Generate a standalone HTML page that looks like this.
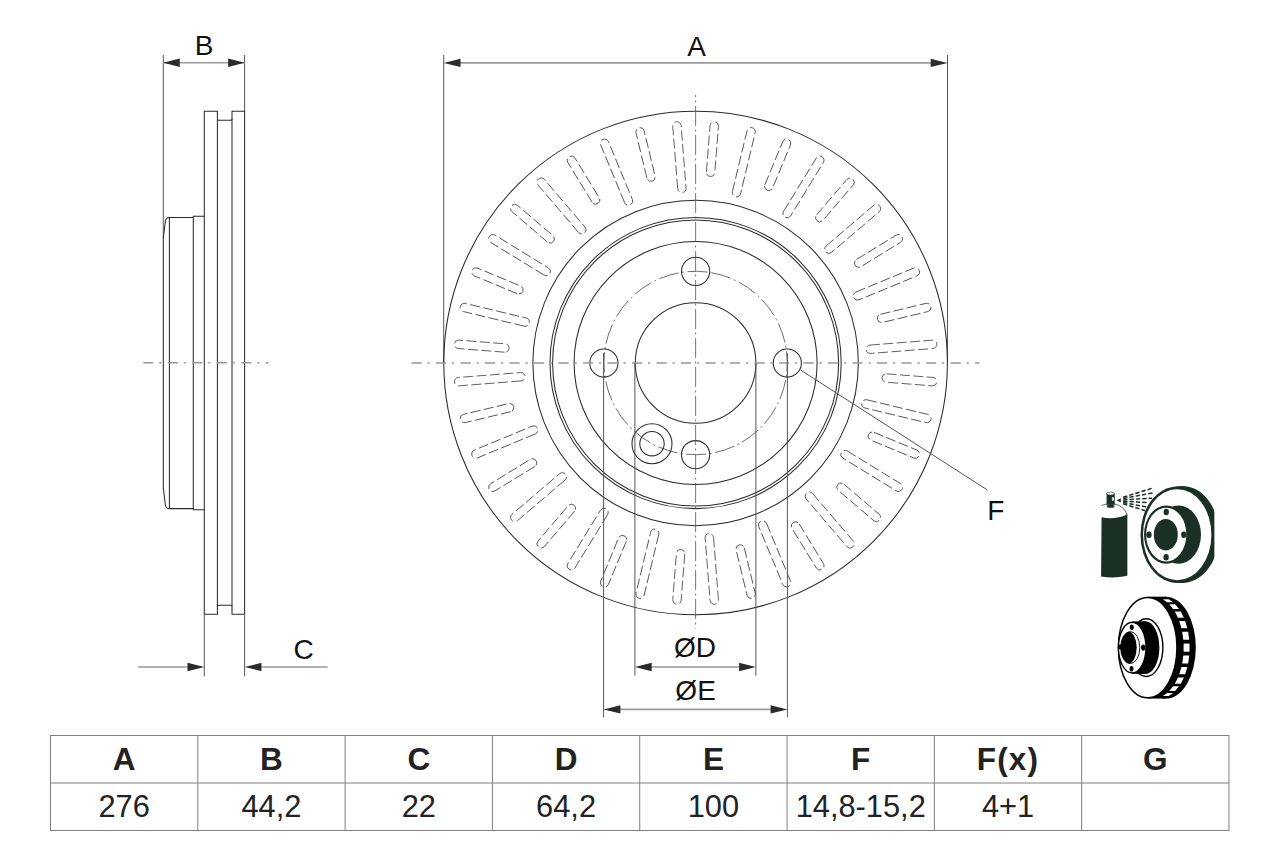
<!DOCTYPE html>
<html lang="en"><head><meta charset="utf-8"><title>Brake disc drawing</title>
<style>
html,body{margin:0;padding:0;background:#fff;}
body{width:1280px;height:853px;overflow:hidden;}
svg{display:block;}
text{opacity:.999;font-family:"Liberation Sans",Arial,Helvetica,sans-serif;fill:#111;}
.o{fill:none;stroke:#2b2b2b;stroke-width:1.05;}
.t{fill:none;stroke:#3a3a3a;stroke-width:0.9;}
.ext{fill:none;stroke:#555;stroke-width:1;}
.dim{fill:none;stroke:#999;stroke-width:1.6;}
.ar{fill:#2b2b2b;stroke:none;}
.slot{fill:none;stroke:#4a4a4a;stroke-width:0.85;stroke-dasharray:10 3.4;}
.cl{fill:none;stroke:#999;stroke-width:1.6;stroke-dasharray:10.2 5.8 2.2 6.3;}
.clv{fill:none;stroke:#555;stroke-width:0.8;stroke-dasharray:20 3.5 2 3.5;}
.bc{fill:none;stroke:#666;stroke-width:0.9;stroke-dasharray:20 3.5 2 3.5;}
.lbl{font-size:28px;}
.th{font-size:31.5px;font-weight:bold;text-anchor:middle;fill:#222;}
.td{font-size:30.8px;text-anchor:middle;fill:#222;}
.tb{fill:none;stroke:#808080;stroke-width:1;}
</style></head><body>
<svg width="1280" height="853" viewBox="0 0 1280 853">
<rect width="1280" height="853" fill="#fff"/>

<g id="side">
<line class="ext" x1="163.3" y1="55" x2="163.3" y2="238"/>
<line class="ext" x1="244.6" y1="55" x2="244.6" y2="111.5"/>
<line class="dim" x1="163.3" y1="62.7" x2="244.6" y2="62.7"/>
<path class="ar" d="M163.3 62.7 l16.5 -4.2 v8.4z"/>
<path class="ar" d="M244.6 62.7 l-16.5 -4.2 v8.4z"/>
<text class="lbl" x="194.8" y="55">B</text>
<path class="o" d="M204.3 111.3 H217.4 V119.3 Q217.4 120.3 218.6 120.3 H230.8 Q232 120.3 232 119.3 V111.3 H244.6 V614.3 H232 V606.3 Q232 605.3 230.8 605.3 H218.6 Q217.4 605.3 217.4 606.3 V614.3 H204.3 Z"/>
<line class="o" x1="217.4" y1="119.3" x2="217.4" y2="606.3"/>
<line class="o" x1="232" y1="119.3" x2="232" y2="606.3" stroke-width="1.5"/>
<path class="o" d="M204.3 216.3 H193.3 V217.4 H169.4 Q166 217.4 165.4 221 L163.3 238 V488 L165.4 505 Q166 508.6 169.4 508.6 H193.3 V509.7 H204.3"/>
<line class="o" x1="169.4" y1="217.4" x2="169.4" y2="508.6"/>
<line class="o" x1="193.3" y1="217.4" x2="193.3" y2="508.6"/>
<line class="cl" x1="143.2" y1="362.8" x2="268.5" y2="362.8"/>
<line class="ext" x1="204.3" y1="614.3" x2="204.3" y2="676.3"/>
<line class="ext" x1="244.6" y1="614.3" x2="244.6" y2="676.3"/>
<line class="dim" x1="138.2" y1="667" x2="190" y2="667"/>
<line class="dim" x1="259" y1="667" x2="327.7" y2="667"/>
<path class="ar" d="M204.3 667 l-16.8 -4.2 v8.4z"/>
<path class="ar" d="M244.6 667 l16.8 -4.2 v8.4z"/>
<text class="lbl" x="293.5" y="659">C</text>
</g>
<g id="front">
<line class="ext" x1="443.7" y1="55" x2="443.7" y2="363.0"/>
<line class="ext" x1="947.5" y1="55" x2="947.5" y2="363.0"/>
<line class="dim" x1="459" y1="62.9" x2="932" y2="62.9"/>
<path class="ar" d="M443.7 62.9 l16.8 -4.2 v8.4z"/>
<path class="ar" d="M947.5 62.9 l-16.8 -4.2 v8.4z"/>
<text class="lbl" x="687.3" y="55.6">A</text>
<circle class="o" cx="695.6" cy="363.0" r="251.8"/>
<circle class="o" cx="695.6" cy="363.0" r="162.7"/>
<circle class="o" cx="695.6" cy="363.0" r="145.6"/>
<circle class="o" cx="695.6" cy="363.0" r="143.0"/>
<circle class="o" cx="695.6" cy="363.0" r="121.5"/>
<circle class="o" cx="695.6" cy="363.0" r="60.3"/>
<circle class="bc" cx="695.6" cy="363.0" r="91.7" transform="rotate(-80 695.6 363.0)"/>
<circle class="o" cx="787.30" cy="363.00" r="14.1"/>
<circle class="o" cx="695.60" cy="454.70" r="14.1"/>
<circle class="o" cx="603.90" cy="363.00" r="14.1"/>
<circle class="o" cx="695.60" cy="271.30" r="14.1"/>
<circle class="o" cx="651.99" cy="443.66" r="20"/>
<circle class="o" cx="651.99" cy="443.66" r="12.2"/>
<path class="slot" d="M691.40 171.80 V125.20 A4.2 4.2 0 0 1 699.80 125.20 V171.80 A4.2 4.2 0 0 1 691.40 171.80Z" transform="rotate(4.5 695.6 363.0)"/>
<path class="slot" d="M691.40 187.80 V125.20 A4.2 4.2 0 0 1 699.80 125.20 V187.80 A4.2 4.2 0 0 1 691.40 187.80Z" transform="rotate(13.5 695.6 363.0)"/>
<path class="slot" d="M691.40 171.80 V125.20 A4.2 4.2 0 0 1 699.80 125.20 V171.80 A4.2 4.2 0 0 1 691.40 171.80Z" transform="rotate(22.5 695.6 363.0)"/>
<path class="slot" d="M691.40 187.80 V125.20 A4.2 4.2 0 0 1 699.80 125.20 V187.80 A4.2 4.2 0 0 1 691.40 187.80Z" transform="rotate(31.5 695.6 363.0)"/>
<path class="slot" d="M691.40 171.80 V125.20 A4.2 4.2 0 0 1 699.80 125.20 V171.80 A4.2 4.2 0 0 1 691.40 171.80Z" transform="rotate(40.5 695.6 363.0)"/>
<path class="slot" d="M691.40 187.80 V125.20 A4.2 4.2 0 0 1 699.80 125.20 V187.80 A4.2 4.2 0 0 1 691.40 187.80Z" transform="rotate(49.5 695.6 363.0)"/>
<path class="slot" d="M691.40 171.80 V125.20 A4.2 4.2 0 0 1 699.80 125.20 V171.80 A4.2 4.2 0 0 1 691.40 171.80Z" transform="rotate(58.5 695.6 363.0)"/>
<path class="slot" d="M691.40 187.80 V125.20 A4.2 4.2 0 0 1 699.80 125.20 V187.80 A4.2 4.2 0 0 1 691.40 187.80Z" transform="rotate(67.5 695.6 363.0)"/>
<path class="slot" d="M691.40 171.80 V125.20 A4.2 4.2 0 0 1 699.80 125.20 V171.80 A4.2 4.2 0 0 1 691.40 171.80Z" transform="rotate(76.5 695.6 363.0)"/>
<path class="slot" d="M691.40 187.80 V125.20 A4.2 4.2 0 0 1 699.80 125.20 V187.80 A4.2 4.2 0 0 1 691.40 187.80Z" transform="rotate(85.5 695.6 363.0)"/>
<path class="slot" d="M691.40 171.80 V125.20 A4.2 4.2 0 0 1 699.80 125.20 V171.80 A4.2 4.2 0 0 1 691.40 171.80Z" transform="rotate(94.5 695.6 363.0)"/>
<path class="slot" d="M691.40 187.80 V125.20 A4.2 4.2 0 0 1 699.80 125.20 V187.80 A4.2 4.2 0 0 1 691.40 187.80Z" transform="rotate(103.5 695.6 363.0)"/>
<path class="slot" d="M691.40 171.80 V125.20 A4.2 4.2 0 0 1 699.80 125.20 V171.80 A4.2 4.2 0 0 1 691.40 171.80Z" transform="rotate(112.5 695.6 363.0)"/>
<path class="slot" d="M691.40 187.80 V125.20 A4.2 4.2 0 0 1 699.80 125.20 V187.80 A4.2 4.2 0 0 1 691.40 187.80Z" transform="rotate(121.5 695.6 363.0)"/>
<path class="slot" d="M691.40 171.80 V125.20 A4.2 4.2 0 0 1 699.80 125.20 V171.80 A4.2 4.2 0 0 1 691.40 171.80Z" transform="rotate(130.5 695.6 363.0)"/>
<path class="slot" d="M691.40 187.80 V125.20 A4.2 4.2 0 0 1 699.80 125.20 V187.80 A4.2 4.2 0 0 1 691.40 187.80Z" transform="rotate(139.5 695.6 363.0)"/>
<path class="slot" d="M691.40 171.80 V125.20 A4.2 4.2 0 0 1 699.80 125.20 V171.80 A4.2 4.2 0 0 1 691.40 171.80Z" transform="rotate(148.5 695.6 363.0)"/>
<path class="slot" d="M691.40 187.80 V125.20 A4.2 4.2 0 0 1 699.80 125.20 V187.80 A4.2 4.2 0 0 1 691.40 187.80Z" transform="rotate(157.5 695.6 363.0)"/>
<path class="slot" d="M691.40 171.80 V125.20 A4.2 4.2 0 0 1 699.80 125.20 V171.80 A4.2 4.2 0 0 1 691.40 171.80Z" transform="rotate(166.5 695.6 363.0)"/>
<path class="slot" d="M691.40 187.80 V125.20 A4.2 4.2 0 0 1 699.80 125.20 V187.80 A4.2 4.2 0 0 1 691.40 187.80Z" transform="rotate(175.5 695.6 363.0)"/>
<path class="slot" d="M691.40 171.80 V125.20 A4.2 4.2 0 0 1 699.80 125.20 V171.80 A4.2 4.2 0 0 1 691.40 171.80Z" transform="rotate(184.5 695.6 363.0)"/>
<path class="slot" d="M691.40 187.80 V125.20 A4.2 4.2 0 0 1 699.80 125.20 V187.80 A4.2 4.2 0 0 1 691.40 187.80Z" transform="rotate(193.5 695.6 363.0)"/>
<path class="slot" d="M691.40 171.80 V125.20 A4.2 4.2 0 0 1 699.80 125.20 V171.80 A4.2 4.2 0 0 1 691.40 171.80Z" transform="rotate(202.5 695.6 363.0)"/>
<path class="slot" d="M691.40 187.80 V125.20 A4.2 4.2 0 0 1 699.80 125.20 V187.80 A4.2 4.2 0 0 1 691.40 187.80Z" transform="rotate(211.5 695.6 363.0)"/>
<path class="slot" d="M691.40 171.80 V125.20 A4.2 4.2 0 0 1 699.80 125.20 V171.80 A4.2 4.2 0 0 1 691.40 171.80Z" transform="rotate(220.5 695.6 363.0)"/>
<path class="slot" d="M691.40 187.80 V125.20 A4.2 4.2 0 0 1 699.80 125.20 V187.80 A4.2 4.2 0 0 1 691.40 187.80Z" transform="rotate(229.5 695.6 363.0)"/>
<path class="slot" d="M691.40 171.80 V125.20 A4.2 4.2 0 0 1 699.80 125.20 V171.80 A4.2 4.2 0 0 1 691.40 171.80Z" transform="rotate(238.5 695.6 363.0)"/>
<path class="slot" d="M691.40 187.80 V125.20 A4.2 4.2 0 0 1 699.80 125.20 V187.80 A4.2 4.2 0 0 1 691.40 187.80Z" transform="rotate(247.5 695.6 363.0)"/>
<path class="slot" d="M691.40 171.80 V125.20 A4.2 4.2 0 0 1 699.80 125.20 V171.80 A4.2 4.2 0 0 1 691.40 171.80Z" transform="rotate(256.5 695.6 363.0)"/>
<path class="slot" d="M691.40 187.80 V125.20 A4.2 4.2 0 0 1 699.80 125.20 V187.80 A4.2 4.2 0 0 1 691.40 187.80Z" transform="rotate(265.5 695.6 363.0)"/>
<path class="slot" d="M691.40 171.80 V125.20 A4.2 4.2 0 0 1 699.80 125.20 V171.80 A4.2 4.2 0 0 1 691.40 171.80Z" transform="rotate(274.5 695.6 363.0)"/>
<path class="slot" d="M691.40 187.80 V125.20 A4.2 4.2 0 0 1 699.80 125.20 V187.80 A4.2 4.2 0 0 1 691.40 187.80Z" transform="rotate(283.5 695.6 363.0)"/>
<path class="slot" d="M691.40 171.80 V125.20 A4.2 4.2 0 0 1 699.80 125.20 V171.80 A4.2 4.2 0 0 1 691.40 171.80Z" transform="rotate(292.5 695.6 363.0)"/>
<path class="slot" d="M691.40 187.80 V125.20 A4.2 4.2 0 0 1 699.80 125.20 V187.80 A4.2 4.2 0 0 1 691.40 187.80Z" transform="rotate(301.5 695.6 363.0)"/>
<path class="slot" d="M691.40 171.80 V125.20 A4.2 4.2 0 0 1 699.80 125.20 V171.80 A4.2 4.2 0 0 1 691.40 171.80Z" transform="rotate(310.5 695.6 363.0)"/>
<path class="slot" d="M691.40 187.80 V125.20 A4.2 4.2 0 0 1 699.80 125.20 V187.80 A4.2 4.2 0 0 1 691.40 187.80Z" transform="rotate(319.5 695.6 363.0)"/>
<path class="slot" d="M691.40 171.80 V125.20 A4.2 4.2 0 0 1 699.80 125.20 V171.80 A4.2 4.2 0 0 1 691.40 171.80Z" transform="rotate(328.5 695.6 363.0)"/>
<path class="slot" d="M691.40 187.80 V125.20 A4.2 4.2 0 0 1 699.80 125.20 V187.80 A4.2 4.2 0 0 1 691.40 187.80Z" transform="rotate(337.5 695.6 363.0)"/>
<path class="slot" d="M691.40 171.80 V125.20 A4.2 4.2 0 0 1 699.80 125.20 V171.80 A4.2 4.2 0 0 1 691.40 171.80Z" transform="rotate(346.5 695.6 363.0)"/>
<path class="slot" d="M691.40 187.80 V125.20 A4.2 4.2 0 0 1 699.80 125.20 V187.80 A4.2 4.2 0 0 1 691.40 187.80Z" transform="rotate(355.5 695.6 363.0)"/>
<line class="cl" x1="411.5" y1="363.0" x2="979.5" y2="363.0"/>
<line class="clv" x1="695.6" y1="95" x2="695.6" y2="628.6" stroke-dashoffset="-11"/>
<line class="ext" x1="634.9" y1="363.0" x2="634.9" y2="675.7"/>
<line class="ext" x1="755.9" y1="363.0" x2="755.9" y2="675.7"/>
<line class="ext" x1="603.6" y1="353.0" x2="603.6" y2="717.3"/>
<line class="ext" x1="787.4" y1="353.0" x2="787.4" y2="717.3"/>
<line class="dim" x1="650" y1="667" x2="741" y2="667"/>
<path class="ar" d="M634.9 667 l16.8 -4.2 v8.4z"/>
<path class="ar" d="M755.9 667 l-16.8 -4.2 v8.4z"/>
<line class="dim" x1="619" y1="709.4" x2="772" y2="709.4"/>
<path class="ar" d="M603.6 709.4 l16.8 -4.2 v8.4z"/>
<path class="ar" d="M787.4 709.4 l-16.8 -4.2 v8.4z"/>
<text class="lbl" x="695" y="657.3" text-anchor="middle">ØD</text>
<text class="lbl" x="695.6" y="699.7" text-anchor="middle">ØE</text>
<line class="ext" x1="800.6" y1="370" x2="987.4" y2="490"/>
<text class="lbl" x="987.2" y="520">F</text>
</g>
<g id="table">
<rect class="tb" x="50.5" y="735.5" width="1178.48" height="95"/>
<line class="tb" x1="50.5" y1="783" x2="1228.98" y2="783"/>
<line class="tb" x1="197.81" y1="735.5" x2="197.81" y2="830.5"/>
<line class="tb" x1="345.12" y1="735.5" x2="345.12" y2="830.5"/>
<line class="tb" x1="492.43" y1="735.5" x2="492.43" y2="830.5"/>
<line class="tb" x1="639.74" y1="735.5" x2="639.74" y2="830.5"/>
<line class="tb" x1="787.05" y1="735.5" x2="787.05" y2="830.5"/>
<line class="tb" x1="934.36" y1="735.5" x2="934.36" y2="830.5"/>
<line class="tb" x1="1081.67" y1="735.5" x2="1081.67" y2="830.5"/>
<text class="th" x="124.16" y="770.4">A</text>
<text class="td" x="124.16" y="817.2">276</text>
<text class="th" x="271.47" y="770.4">B</text>
<text class="td" x="271.47" y="817.2">44,2</text>
<text class="th" x="418.77" y="770.4">C</text>
<text class="td" x="418.77" y="817.2">22</text>
<text class="th" x="566.09" y="770.4">D</text>
<text class="td" x="566.09" y="817.2">64,2</text>
<text class="th" x="713.39" y="770.4">E</text>
<text class="td" x="713.39" y="817.2">100</text>
<text class="th" x="860.70" y="770.4">F</text>
<text class="td" x="860.70" y="817.2">14,8-15,2</text>
<text class="th" x="1008.02" y="770.4" letter-spacing="1.2">F(x)</text>
<text class="td" x="1008.02" y="817.2">4+1</text>
<text class="th" x="1155.33" y="770.4">G</text>
</g>
<g id="spray-icon">
<clipPath id="cpd"><rect x="1130" y="480" width="84.36" height="110"/></clipPath>
<g clip-path="url(#cpd)">
<ellipse cx="1182.14" cy="534.43" rx="36.86" ry="48.54" fill="#1b3025"/>
<ellipse cx="1177.21" cy="534.72" rx="36.72" ry="48.26" fill="#1b3025"/>
<ellipse cx="1177.21" cy="534.72" rx="34.19" ry="45.58" fill="#fff"/>
<ellipse cx="1178.48" cy="534.58" rx="22.51" ry="29.12" fill="#1b3025"/>
<ellipse cx="1166.24" cy="534.58" rx="22.23" ry="29.12" fill="#1b3025"/>
<ellipse cx="1166.24" cy="534.58" rx="20.12" ry="26.87" fill="#fff"/>
<ellipse cx="1165.82" cy="534.72" rx="11.96" ry="15.76" fill="#1b3025"/>
<ellipse cx="1166.24" cy="511.92" rx="2.67" ry="3.24" fill="#1b3025"/>
<ellipse cx="1148.94" cy="534.72" rx="2.67" ry="3.24" fill="#1b3025"/>
<ellipse cx="1183.83" cy="534.72" rx="2.67" ry="3.24" fill="#1b3025"/>
<ellipse cx="1166.10" cy="557.23" rx="2.67" ry="3.24" fill="#1b3025"/>
</g>
<path fill="#1b3025" d="M1101.57 517.23 Q1113.76 520.45 1127.36 514.59 V575.80 Q1114.47 578.61 1101.10 576.50 Z"/>
<path fill="none" stroke="#1b3025" stroke-width="0.7" d="M1101.57 505.68 Q1103.79 504.33 1107.31 504.04 M1114.35 503.92 Q1124.31 505.80 1127.24 515.18"/>
<ellipse cx="1110.71" cy="506.26" rx="3.87" ry="1.52" fill="#1b3025"/>
<rect x="1106.55" y="493.19" width="8.21" height="11.73" fill="#1b3025"/>
<ellipse cx="1110.59" cy="493.60" rx="3.87" ry="1.52" fill="#fff" stroke="#1b3025" stroke-width="0.6"/>
<ellipse cx="1112.94" cy="499.05" rx="1.17" ry="1.99" fill="#dfe6e0"/>
<path fill="#1b3025" d="M1116.57 500.23 L1120.80 498.29 V502.57Z"/>
<line x1="1123.14" y1="497.25" x2="1152.16" y2="488.25" stroke="#1b3025" stroke-width="1.5" stroke-dasharray="4.3 2.1"/>
<line x1="1123.14" y1="498.51" x2="1153.33" y2="492.78" stroke="#1b3025" stroke-width="1.5" stroke-dasharray="4.3 2.1"/>
<line x1="1123.14" y1="499.89" x2="1152.16" y2="498.15" stroke="#1b3025" stroke-width="1.5" stroke-dasharray="4.3 2.1"/>
<line x1="1123.14" y1="501.15" x2="1147.76" y2="502.63" stroke="#1b3025" stroke-width="1.5" stroke-dasharray="4.3 2.1"/>
<line x1="1123.14" y1="502.52" x2="1147.47" y2="507.15" stroke="#1b3025" stroke-width="1.5" stroke-dasharray="4.3 2.1"/>
<line x1="1123.14" y1="503.79" x2="1145.42" y2="510.70" stroke="#1b3025" stroke-width="1.5" stroke-dasharray="4.3 2.1"/>
</g>
<g id="vented-icon">
<ellipse cx="1165.98" cy="647.61" rx="29.83" ry="50.94" fill="#000"/>
<rect x="1147.69" y="596.68" width="18.29" height="101.87" fill="#000"/>
<polygon fill="#fff" points="1162.80,599.28 1168.71,599.28 1173.15,602.32 1167.24,602.32"/>
<polygon fill="#fff" points="1169.24,604.20 1175.15,604.20 1179.04,608.92 1173.13,608.92"/>
<polygon fill="#fff" points="1174.83,611.55 1180.74,611.55 1183.86,617.70 1177.95,617.70"/>
<polygon fill="#fff" points="1179.23,620.92 1185.14,620.92 1187.33,628.15 1181.42,628.15"/>
<polygon fill="#fff" points="1182.22,631.79 1188.13,631.79 1189.25,639.69 1183.34,639.69"/>
<polygon fill="#fff" points="1183.61,643.55 1189.52,643.55 1189.52,651.68 1183.61,651.68"/>
<polygon fill="#fff" points="1183.34,655.54 1189.25,655.54 1188.13,663.44 1182.22,663.44"/>
<polygon fill="#fff" points="1181.42,667.08 1187.33,667.08 1185.14,674.31 1179.23,674.31"/>
<polygon fill="#fff" points="1177.95,677.53 1183.86,677.53 1180.74,683.68 1174.83,683.68"/>
<polygon fill="#fff" points="1173.13,686.30 1179.04,686.30 1175.15,691.03 1169.24,691.03"/>
<polygon fill="#fff" points="1167.24,692.91 1173.15,692.91 1168.71,695.95 1162.80,695.95"/>
<ellipse cx="1147.69" cy="647.61" rx="29.27" ry="50.23" fill="#fff" stroke="#000" stroke-width="1.5"/>
<ellipse cx="1146.28" cy="647.61" rx="16.60" ry="28.84" fill="#fff" stroke="#000" stroke-width="1.4"/>
<ellipse cx="1145.30" cy="647.61" rx="14.07" ry="26.45" fill="#000"/>
<path fill="#000" d="M1132.21 621.58 L1145.30 621.16 V674.07 L1132.21 673.64Z"/>
<ellipse cx="1132.21" cy="647.61" rx="13.79" ry="25.33" fill="#fff" stroke="#000" stroke-width="1.4"/>
<clipPath id="cpb"><ellipse cx="1130.24" cy="647.61" rx="9.57" ry="16.04"/></clipPath>
<ellipse cx="1130.24" cy="647.61" rx="9.57" ry="16.04" fill="#fff" stroke="#000" stroke-width="0.9"/>
<ellipse cx="1127.71" cy="647.61" rx="9.01" ry="16.32" fill="#000" clip-path="url(#cpb)"/>
<ellipse cx="1131.79" cy="627.21" rx="1.97" ry="2.81" fill="#000"/>
<ellipse cx="1143.19" cy="647.61" rx="2.11" ry="3.10" fill="#000"/>
<ellipse cx="1131.51" cy="668.72" rx="1.97" ry="2.81" fill="#000"/>
<ellipse cx="1119.97" cy="646.91" rx="1.97" ry="2.39" fill="#000"/>
</g>
</svg></body></html>
